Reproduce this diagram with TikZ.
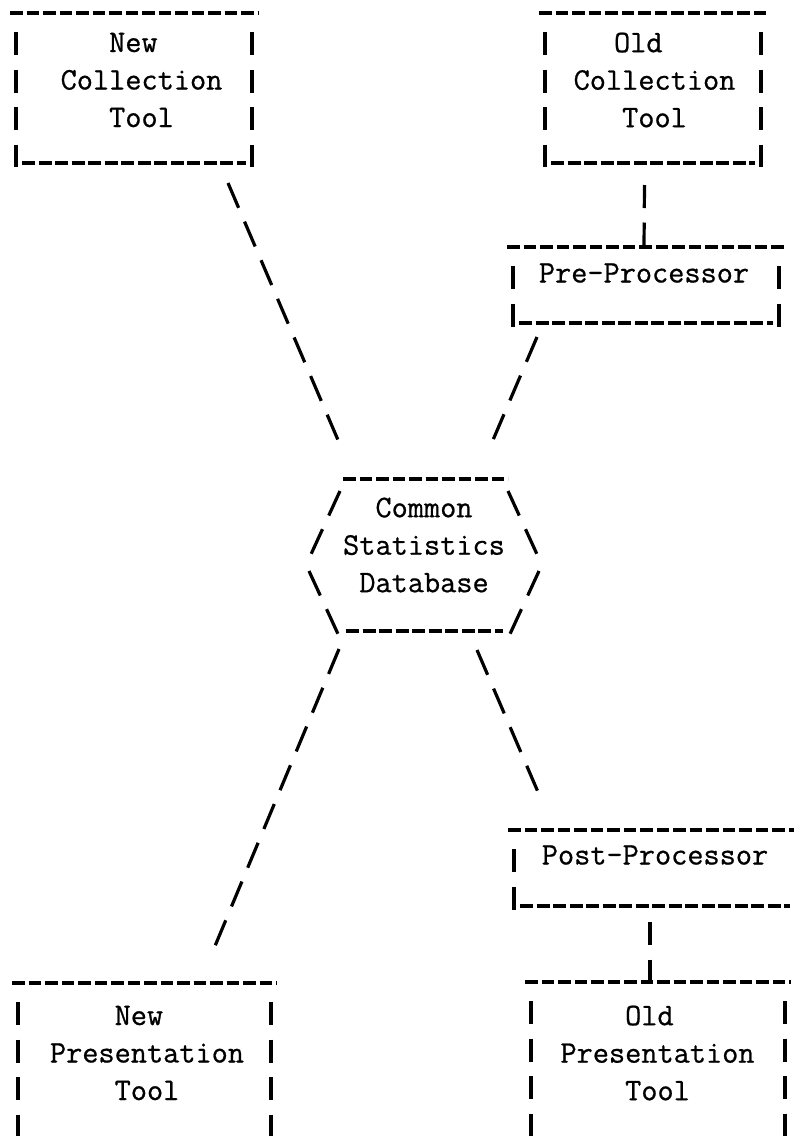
\documentclass[tikz,border=0pt]{standalone}
\usepackage{fontspec}
\setmonofont[FakeBold=0.7]{Latin Modern Mono}

% a box in typewriter style: dashes on top, bars down the sides, underscores at the foot
\newcommand{\asciibox}[4]{%
  \draw[dashrow] (#1,#2) -- (#3,#2);
  \draw[barcol] (#1+6,#2+19) -- (#1+6,#4);
  \draw[barcol] (#3-6,#2+19) -- (#3-6,#4);
  \draw[underrow] (#1+12,#4-4) -- (#3-12,#4-4);
}

\begin{document}
\begin{tikzpicture}[x=1pt,y=-1pt,
    every node/.style={font=\ttfamily\fontsize{31.4}{37.5}\selectfont,align=center,inner sep=0pt},
    dashrow/.style={line width=3.2pt,dash pattern=on 12.5pt off 4pt},
    underrow/.style={line width=3.2pt,dash pattern=on 13pt off 3.5pt},
    barcol/.style={line width=3.2pt,dash pattern=on 23pt off 14.5pt},
    slashline/.style={line width=3.2pt,dash pattern=on 27pt off 15pt}]
  \useasboundingbox (0,0) rectangle (794,1136);
  \clip (0,0) rectangle (794,1136);

  % collection tools and the pre-processor
  \node (newcoll) at (141.5,80) {New\phantom{x}\\Collection\\Tool};
  \node (oldcoll) at (654.5,80) {Old\phantom{xx}\\Collection\\Tool};
  \node (pre) at (644,273) {Pre-Processor};
  \asciibox{10}{13}{258}{167}
  \asciibox{539}{13}{767}{167}
  \asciibox{507}{247}{785}{327}

  % the database in the middle
  \node (hub) at (424,545) {Common\\Statistics\\Database};
  \draw[dashrow] (343,479) -- (508,479);
  \draw[slashline] (340,491) -- (307,563);
  \draw[slashline] (309,571) -- (338,634);
  \draw[slashline] (508,491) -- (541,563);
  \draw[slashline] (539,571) -- (510,634);
  \draw[underrow] (346,631) -- (503,631);

  % presentation side
  \node (post) at (655,855) {Post-Processor};
  \node (newpres) at (147,1053) {New\phantom{x}\\Presentation\\Tool};
  \node (oldpres) at (657.5,1053) {Old\phantom{x}\\Presentation\\Tool};
  \asciibox{508}{830}{802}{910}
  \asciibox{12}{983}{277}{1142}
  \asciibox{525}{982}{791}{1142}

  % links between the boxes
  \draw[slashline] ([shift={(86.5,103)}]newcoll.center) -- ([shift={(-86,-105)}]hub.center);
  \draw[barcol] ([shift={(-10,105)}]oldcoll.center) -- ([shift={(0,-26)}]pre.center);
  \draw[slashline] ([shift={(-107,64)}]pre.center) -- ([shift={(69,-105)}]hub.center);
  \draw[slashline] ([shift={(-85,104)}]hub.center) -- ([shift={(68,-107)}]newpres.center);
  \draw[slashline] ([shift={(53,105)}]hub.center) -- ([shift={(-117,-63)}]post.center);
  \draw[barcol] ([shift={(-5,67)}]post.center) -- ([shift={(-7.5,-71)}]oldpres.center);
\end{tikzpicture}
\end{document}
